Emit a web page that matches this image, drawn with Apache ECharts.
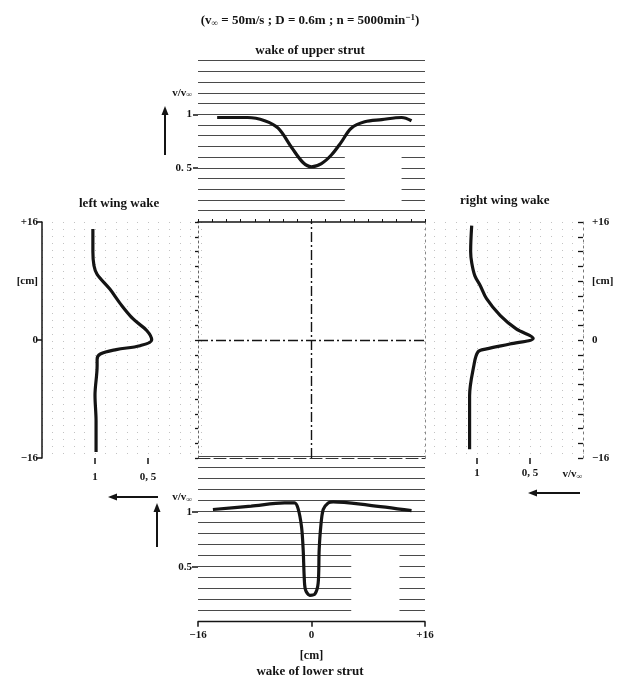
<!DOCTYPE html>
<html>
<head>
<meta charset="utf-8">
<script src="https://cdn.jsdelivr.net/npm/echarts@6/dist/echarts.min.js"></script>
<style>
  html, body { margin: 0; padding: 0; background: #fff; }
  #chart { width: 620px; height: 682px; }
</style>
</head>
<body>
<div id="chart"></div>
<script>
// wake of upper strut: position [cm] / v/v_inf
var upperCm = [-13.3, -9, -6.6, -4.7, -2.8, -1.2, 0, 1.4, 2.8, 4.2, 5.6, 7.5, 9.9, 12.7, 14.1];
var upperV  = [0.97, 0.97, 0.94, 0.87, 0.69, 0.55, 0.51, 0.54, 0.62, 0.74, 0.87, 0.93, 0.95, 0.97, 0.94];

// wake of lower strut
var lowerCm = [-13.9, -8.5, -3.8, -2.4, -1.9, -1.4, -1.17, -1.03, -0.85, -0.24, 0.47, 0.94, 1.08, 1.3, 1.65, 2.35, 3.06, 8, 14.1];
var lowerV  = [1.02, 1.05, 1.08, 1.08, 1.03, 0.86, 0.65, 0.41, 0.29, 0.24, 0.25, 0.35, 0.65, 0.86, 1.02, 1.08, 1.09, 1.06, 1.01];

// left wing wake (vertical profile)
var leftCm = [15.05, 12, 10.1, 8.9, 6.9, 4.9, 2.85, 1.26, 0, -0.77, -1.3, -1.9, -2.6, -3.5, -7.5, -11, -15.2];
var leftV  = [1.02, 1.02, 1.01, 0.98, 0.86, 0.76, 0.64, 0.51, 0.465, 0.575, 0.80, 0.95, 0.98, 0.98, 1.0, 0.99, 0.99];

// right wing wake
var rightCm = [15.5, 12, 10.5, 8.7, 7.4, 5.6, 3.3, 1.5, 0.23, -0.54, -1.2, -1.6, -3.5, -7.6, -11, -14.8];
var rightV  = [1.05, 1.06, 1.05, 1.02, 0.97, 0.91, 0.78, 0.63, 0.47, 0.69, 0.91, 0.99, 1.03, 1.07, 1.07, 1.07];

// tick labels
var velLabels = [0.5, 1];
var cmLabels = [-16, 0, 16];

var FONT = 'Liberation Serif';
var INK = '#141414';

function zip(a, b) {
	var out = [];
	for (var i = 0; i < a.length; i++) out.push([a[i], b[i]]);
	return out;
}

var richVel = {
	v: { fontFamily: FONT, fontWeight: 'bold', fontSize: 11, color: INK },
	s: { fontFamily: FONT, fontWeight: 'bold', fontSize: 8, color: INK, padding: [5, 0, 0, 0] }
};

function velFmt(sep) {
	return function (val) {
		if (Math.abs(val - 1) < 1e-6) return '{v|1}';
		if (Math.abs(val - 0.5) < 1e-6) return '{v|0' + sep + '5}';
		return '{v|v/v}{s|∞}';
	};
}

function cmFmt(val) {
	if (val === 16) return '+16';
	if (val === -16) return '−16';
	if (val === 8) return '[cm]';
	return String(val);
}

function arrow(x1, y1, x2, y2) {
	var a = Math.atan2(y2 - y1, x2 - x1), L = 9, W = 3.5;
	var bx = x2 - L * Math.cos(a), by = y2 - L * Math.sin(a);
	var nx = -Math.sin(a) * W, ny = Math.cos(a) * W;
	return [{
		type: 'line', shape: { x1: x1, y1: y1, x2: bx, y2: by },
		style: { stroke: INK, lineWidth: 2 }
	}, {
		type: 'polygon', shape: { points: [[x2, y2], [bx + nx, by + ny], [bx - nx, by - ny]] },
		style: { fill: INK }
	}];
}

// hidden axis that only draws the graph-paper lines
function paper(grid, min, inverse, lineStyle) {
	return { gridIndex: grid, type: 'value', min: min, max: 1.5, interval: 0.1, inverse: inverse,
		axisLine: { show: false }, axisTick: { show: false }, axisLabel: { show: false },
		splitLine: { show: true, lineStyle: lineStyle } };
}

var labelStyle = { fontFamily: FONT, fontWeight: 'bold', fontSize: 11, color: INK };
var hLine = { color: '#4a4a4a', width: 1, type: 'solid' };
var vDot = { color: '#c2c2c2', width: 1, type: [1, 6] };
var curve = { color: INK, width: 3.2 };
var noSplit = { show: false };

var chart = echarts.init(document.getElementById('chart'), null, { renderer: 'canvas' });

chart.setOption({
	backgroundColor: '#fff',
	animation: false,
	textStyle: { fontFamily: FONT },
	title: [
		{ text: '(v{s|∞} = 50m/s ; D = 0.6m ; n = 5000min{p|−1})', left: 'center', top: 8,
		  textStyle: { fontFamily: FONT, fontWeight: 'bold', fontSize: 13, color: INK,
		    rich: { s: { fontFamily: FONT, fontWeight: 'bold', fontSize: 9, color: INK, padding: [6, 0, 0, 0] },
		            p: { fontFamily: FONT, fontWeight: 'bold', fontSize: 9, color: INK, padding: [0, 0, 7, 0] } } } },
		{ text: 'wake of upper strut', left: 'center', top: 39,
		  textStyle: { fontFamily: FONT, fontWeight: 'bold', fontSize: 13, color: INK } },
		{ text: 'left wing wake', left: 74, top: 192,
		  textStyle: { fontFamily: FONT, fontWeight: 'bold', fontSize: 13, color: INK } },
		{ text: 'right wing wake', left: 455, top: 189,
		  textStyle: { fontFamily: FONT, fontWeight: 'bold', fontSize: 13, color: INK } },
		{ text: 'wake of lower strut', left: 'center', top: 660,
		  textStyle: { fontFamily: FONT, fontWeight: 'bold', fontSize: 13, color: INK } }
	],
	grid: [
		{ left: 198, top: 60.7, width: 227, height: 150 },   // upper strut
		{ left: 42, top: 222, width: 159, height: 236 },     // left wing
		{ left: 198, top: 222, width: 227, height: 236 },    // center cross
		{ left: 424, top: 222, width: 159, height: 236 },    // right wing
		{ left: 198, top: 456.7, width: 227, height: 165 }   // lower strut
	],
	xAxis: [
		{ gridIndex: 0, type: 'value', min: -16, max: 16, show: false },
		{ gridIndex: 1, type: 'value', min: 0, max: 1.5, inverse: true, position: 'bottom',
		  axisLine: { show: false, onZero: false }, splitLine: noSplit,
		  axisTick: { show: true, customValues: velLabels, length: 6, lineStyle: { color: INK, width: 1.5 } },
		  axisLabel: { customValues: velLabels, formatter: velFmt(', '), margin: 14, rich: richVel } },
		{ gridIndex: 2, type: 'value', min: -16, max: 16, interval: 2, position: 'top',
		  axisLine: { show: true, onZero: false, lineStyle: { color: INK, width: 1.5 } },
		  axisTick: { show: true, length: 3, lineStyle: { color: INK } },
		  axisLabel: { show: false }, splitLine: noSplit },
		{ gridIndex: 2, type: 'value', min: -16, max: 16, position: 'bottom',
		  axisLine: { show: true, onZero: false, lineStyle: { color: '#333', width: 1, type: [12, 4] } },
		  axisTick: { show: false }, axisLabel: { show: false }, splitLine: noSplit },
		{ gridIndex: 3, type: 'value', min: 0, max: 1.5, inverse: true, position: 'bottom',
		  axisLine: { show: false, onZero: false }, splitLine: noSplit,
		  axisTick: { show: true, customValues: velLabels, length: 6, lineStyle: { color: INK, width: 1.5 } },
		  axisLabel: { customValues: [0.1, 0.5, 1], formatter: velFmt(', '), margin: 10, rich: richVel } },
		{ gridIndex: 4, type: 'value', min: -16, max: 16, position: 'bottom',
		  axisLine: { show: true, onZero: false, lineStyle: { color: INK, width: 1.3 } },
		  axisTick: { show: true, customValues: cmLabels, length: 5, lineStyle: { color: INK, width: 1.5 } },
		  axisLabel: { customValues: cmLabels, formatter: cmFmt, margin: 8, textStyle: labelStyle },
		  splitLine: noSplit,
		  name: '[cm]', nameLocation: 'middle', nameGap: 28,
		  nameTextStyle: { fontFamily: FONT, fontWeight: 'bold', fontSize: 12, color: INK } },
		paper(1, 0, true, vDot),
		paper(3, 0, true, vDot)
	],
	yAxis: [
		{ gridIndex: 0, type: 'value', min: 0.1, max: 1.5,
		  axisLine: { show: false, onZero: false }, splitLine: noSplit,
		  axisTick: { show: true, customValues: velLabels, length: 5, lineStyle: { color: INK, width: 1.5 } },
		  axisLabel: { customValues: [0.5, 1, 1.2], formatter: velFmt('. '), margin: 6, rich: richVel } },
		{ gridIndex: 1, type: 'value', min: -16, max: 16,
		  axisLine: { show: true, onZero: false, lineStyle: { color: INK, width: 1.5 } },
		  axisTick: { show: true, customValues: cmLabels, length: 5, lineStyle: { color: INK, width: 1.5 } },
		  axisLabel: { customValues: [-16, 0, 8, 16], formatter: cmFmt, margin: 4, textStyle: labelStyle },
		  splitLine: noSplit },
		{ gridIndex: 2, type: 'value', min: -16, max: 16, interval: 2, position: 'left',
		  axisLine: { show: true, onZero: false, lineStyle: { color: '#666', width: 1, type: [2, 3] } },
		  axisTick: { show: true, length: 3, lineStyle: { color: INK, width: 1.3 } },
		  axisLabel: { show: false }, splitLine: noSplit },
		{ gridIndex: 2, type: 'value', min: -16, max: 16, position: 'right',
		  axisLine: { show: true, onZero: false, lineStyle: { color: '#888', width: 1, type: [2, 4] } },
		  axisTick: { show: false }, axisLabel: { show: false }, splitLine: noSplit },
		{ gridIndex: 3, type: 'value', min: -16, max: 16, interval: 2, position: 'right',
		  axisLine: { show: true, onZero: false, lineStyle: { color: '#777', width: 1, type: [2, 4] } },
		  axisTick: { show: true, inside: true, length: 5, lineStyle: { color: INK, width: 1.3 } },
		  axisLabel: { customValues: [-16, 0, 8, 16], formatter: cmFmt, margin: 9, textStyle: labelStyle },
		  splitLine: noSplit },
		{ gridIndex: 4, type: 'value', min: 0, max: 1.5,
		  axisLine: { show: false, onZero: false }, splitLine: noSplit,
		  axisTick: { show: true, customValues: velLabels, length: 6, lineStyle: { color: INK, width: 1.5 } },
		  axisLabel: { customValues: [0.5, 1, 1.13], formatter: velFmt('.'), margin: 6, rich: richVel } },
		paper(0, 0.1, false, hLine),
		paper(4, 0, false, hLine)
	],
	series: [
		{ name: 'upper strut', type: 'line', xAxisIndex: 0, yAxisIndex: 0,
		  data: zip(upperCm, upperV), smooth: 0.35, symbol: 'none', lineStyle: curve,
		  markArea: { silent: true, itemStyle: { color: '#fff', opacity: 1 },
		    data: [[{ coord: [4.7, 0.64] }, { coord: [12.7, 0.14] }]] } },
		{ name: 'left wing', type: 'line', xAxisIndex: 1, yAxisIndex: 1,
		  data: zip(leftV, leftCm), smooth: 0.35, symbol: 'none', lineStyle: curve },
		{ name: 'center', type: 'line', xAxisIndex: 2, yAxisIndex: 2, data: [[0, 0]],
		  symbol: 'none', lineStyle: { opacity: 0 },
		  markLine: { silent: true, symbol: 'none', label: { show: false },
		    lineStyle: { color: INK, width: 1.4, type: [10, 3, 2, 3] },
		    data: [{ xAxis: 0 }, { yAxis: 0 }] } },
		{ name: 'right wing', type: 'line', xAxisIndex: 4, yAxisIndex: 4,
		  data: zip(rightV, rightCm), smooth: 0.35, symbol: 'none', lineStyle: curve },
		{ name: 'lower strut', type: 'line', xAxisIndex: 5, yAxisIndex: 5,
		  data: zip(lowerCm, lowerV), smooth: 0.3, symbol: 'none', lineStyle: curve,
		  markArea: { silent: true, itemStyle: { color: '#fff', opacity: 1 },
		    data: [[{ coord: [5.6, 0.66] }, { coord: [12.4, 0.08] }]] } }
	],
	graphic: [].concat(
		arrow(165, 155, 165, 106),
		arrow(157, 547, 157, 503),
		arrow(158, 497, 108, 497),
		arrow(580, 493, 528, 493)
	)
});
</script>
</body>
</html>
